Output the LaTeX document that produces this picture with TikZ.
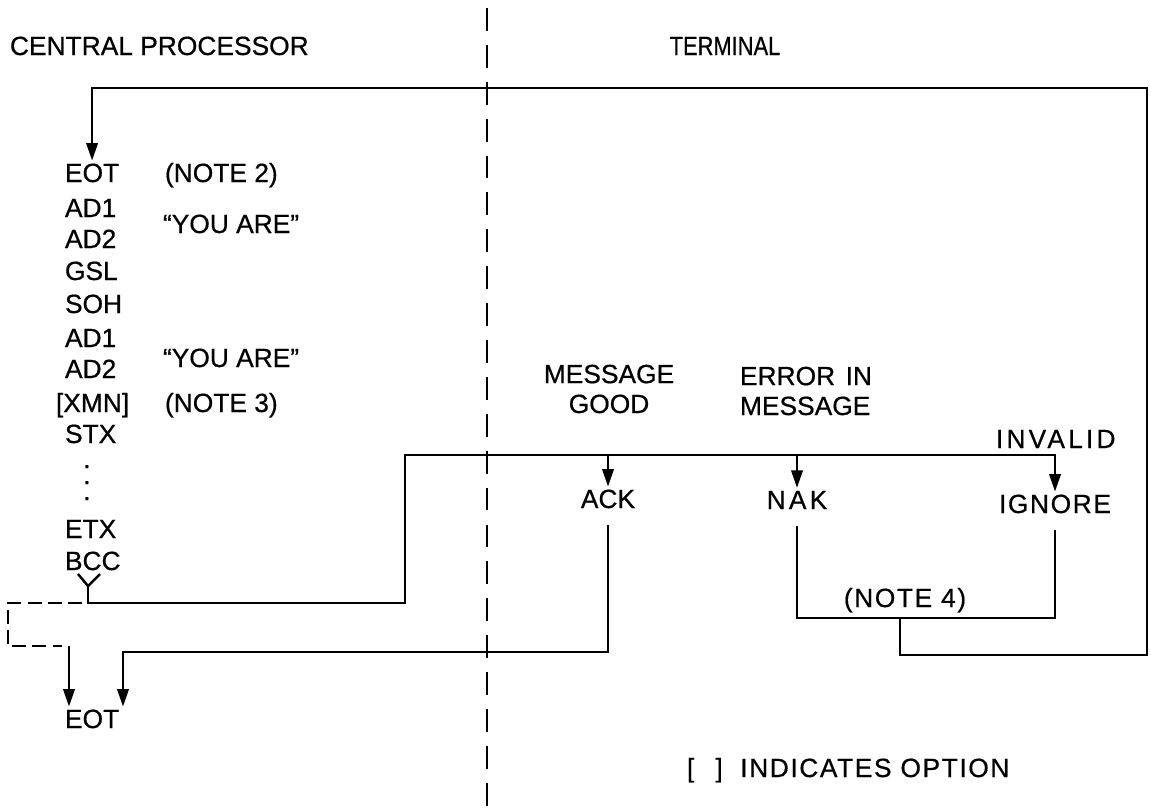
\documentclass[tikz,border=0pt]{standalone}
\usepackage{fontspec}
\setmainfont{Liberation Sans}[FakeBold=0.6]
\usepackage{tikz}
\usetikzlibrary{positioning,arrows.meta}

\begin{document}
\begin{tikzpicture}[x=0.02cm,y=-0.02cm,line width=1.4pt,>={Triangle[length=10pt,width=6.5pt]}]
\useasboundingbox (0,0) rectangle (1151,808);
\tikzstyle{every node}=[font=\fontsize{15}{17}\selectfont,inner sep=1pt];
\tikzstyle{lbl}=[anchor=base west];
\tikzstyle{wide}=[font=\fontsize{15}{17}\selectfont\addfontfeatures{LetterSpace=6}];
\tikzstyle{wider}=[font=\fontsize{15}{17}\selectfont\addfontfeatures{LetterSpace=12}];
\tikzstyle{dot}=[anchor=base,inner sep=0pt,text height=2pt,text depth=0pt];

% headings and divider
\draw node[lbl] (cpu) at (7,55) {CENTRAL PROCESSOR};
\draw node[anchor=base,font=\fontsize{15}{17}\selectfont\addfontfeatures{FakeStretch=0.83}] (term) at (725,55) {TERMINAL};
\draw[dash pattern=on 13pt off 8pt] (487,8) -- (487,806);

% central processor sequence
\draw node[lbl] (eot) at (62,182) {EOT};
\draw node[lbl] (ada) at (62,217) {AD1};
\draw node[lbl] (adb) at (62,248) {AD2};
\draw node[lbl] (gsl) at (62,280) {GSL};
\draw node[lbl] (soh) at (62,313) {SOH};
\draw node[lbl] (adc) at (62,347) {AD1};
\draw node[lbl] (add) at (62,378) {AD2};
\draw node[lbl] (xmn) at (53,412) {[XMN]};
\draw node[lbl] (stx) at (62,443) {STX};
\foreach \i in {1,2,3} \node[dot] (dot\i) at (87,{452+16*\i}) {.};
\draw node[lbl] (etx) at (62,538) {ETX};
\draw node[lbl] (bcc) at (62,570) {BCC};
\draw node[lbl] (eotb) at (62,728) {EOT};

\draw node[lbl] (note2) at (162,182) {(NOTE 2)};
\draw node[lbl] (you1) at (160,233) {“YOU ARE”};
\draw node[lbl] (you2) at (160,367) {“YOU ARE”};
\draw node[lbl] (note3) at (162,412) {(NOTE 3)};

% terminal responses
\draw node[anchor=base,align=center] (good) at (609,413) {MESSAGE\\GOOD};
\draw node[lbl,align=left] (error) at (737,415) {ERROR\hspace{6pt}IN\\MESSAGE};
\draw node[lbl,wider] (invalid) at (993,448) {INVALID};
\draw node[anchor=base] (ack) at (608,508) {ACK};
\draw node[anchor=base,wider] (nak) at (797,509) {NAK};
\draw node[anchor=base,wide] (ignore) at (1055,513) {IGNORE};
\draw node[anchor=base,wide] (note4) at (905,607) {(NOTE 4)};
\draw node[lbl,wide] (option) at (684,777) {[\hspace{12pt}]\hspace{10pt}INDICATES OPTION};

% connectors
\coordinate (fk) at (88,586);
\coordinate (out) at (88,603);
\coordinate (split) at (405,455);
\coordinate (n4) at (900,618);
\coordinate (rb) at (1147,655);
\coordinate (rt) at (1147,88);
\coordinate (da) at (8,603);
\coordinate (db) at (69,646);
\coordinate (ab) at (123,652);

\draw (78,574) -- (fk) -- (100,574);
\draw[->] (fk) -- (out) -| (split) -| (ignore.north);
\draw[->] (ack |- split) -- (ack.north);
\draw[->] (nak |- split) -- (nak.north);
\draw ([yshift=-8pt]nak.south) |- (n4) -| ([yshift=-8pt]ignore.south);
\draw[->] (n4) |- (rb) -- (rt) -| (eot.north);
\draw[->] ([yshift=-8pt]ack.south) |- (ab) -- (ab |- eotb.north);
\draw[dash pattern=on 8pt off 3.5pt] (82,603) -- (da) |- (62,646);
\draw[->] (db) -- (db |- eotb.north);
\end{tikzpicture}
\end{document}
